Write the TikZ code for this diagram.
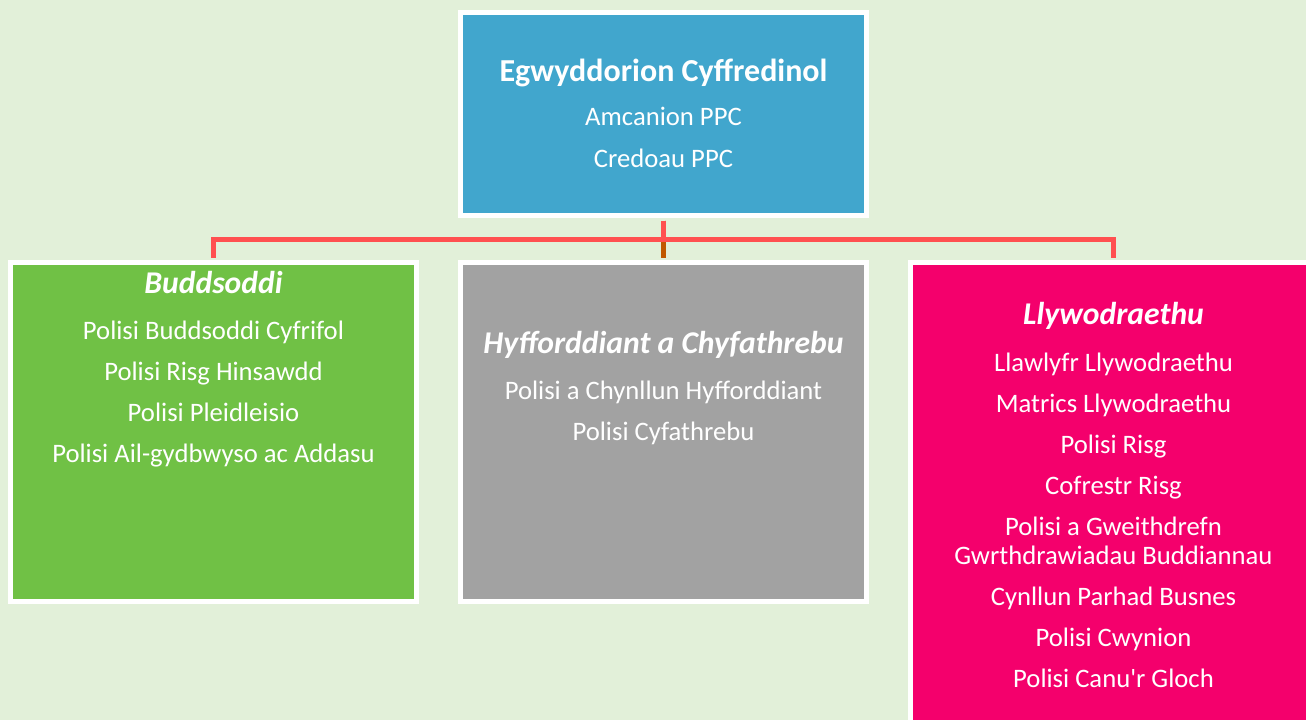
\documentclass[tikz,border=0pt]{standalone}
\usepackage{fontspec}
\setmainfont{Carlito}
\definecolor{bgcol}{HTML}{E2F0D9}
\definecolor{rootblue}{HTML}{41A6CD}
\definecolor{budgreen}{HTML}{70C145}
\definecolor{hyfgray}{HTML}{A2A2A2}
\definecolor{llywpink}{HTML}{F4006C}
\definecolor{linkred}{HTML}{FF5050}
\definecolor{linkbrown}{HTML}{C05800}
\begin{document}
\begin{tikzpicture}
[x=0.75pt,y=0.75pt,
level 1/.style={level distance=109.875pt, sibling distance=337.5pt},
edge from parent/.style={draw=linkred,line width=3.75pt,shorten <=1.9pt,shorten >=1.9pt},
edge from parent path={(\tikzparentnode.south) -- ++(0,-22) -| (\tikzchildnode.north)},
box/.style={rectangle,draw=white,line width=3.75pt,minimum width=304.5pt,inner sep=0pt},
rootbox/.style={box,fill=rootblue,minimum height=152.25pt},
budbox/.style={box,fill=budgreen,anchor=north,minimum height=253.5pt},
hyfbox/.style={box,fill=hyfgray,anchor=north,minimum height=253.5pt},
llywbox/.style={box,fill=llywpink,anchor=north,minimum height=360pt},
title/.style={text=white,anchor=base,inner sep=0pt,font=\bfseries\fontsize{24}{28}\selectfont},
head/.style={text=white,anchor=base,inner sep=0pt,font=\bfseries\itshape\fontsize{23.75}{28}\selectfont},
items/.style={text=white,anchor=base,align=center,inner sep=0pt,font=\fontsize{20}{21.75}\selectfont}]
\useasboundingbox (0,0) rectangle (1306,-720);
\clip (0,0) rectangle (1306,-720);
\fill[bgcol] (0,0) rectangle (1306,-720);
\node[rootbox] (top) at (663.5,-114) {}
child{
  node[budbox] (bud) {}
}
child{
  node[hyfbox] (hyf) {}
  edge from parent[draw=linkbrown]
}
child{
  node[llywbox] (llyw) {}
};
% texts in the boxes (lists sit on the baseline of their last line)
\node[title] (tophead) at ([yshift=-53.625pt]top.north) {Egwyddorion Cyffredinol};
\node[items] (toplist) at ([yshift=-64.5pt]tophead.base) {Amcanion PPC\\[9.75pt]Credoau PPC};
\node[head] (budhead) at ([yshift=-24.375pt]bud.north) {Buddsoddi};
\node[items] (budlist) at ([yshift=-126.75pt]budhead.base) {Polisi Buddsoddi Cyfrifol\\[9pt]Polisi Risg Hinsawdd\\[9pt]Polisi Pleidleisio\\[9pt]Polisi Ail-gydbwyso ac Addasu};
\node[head] (hyfhead) at ([yshift=-69.375pt]hyf.north) {Hyfforddiant a Chyfathrebu};
\node[items] (hyflist) at ([yshift=-65.25pt]hyfhead.base) {Polisi a Chynllun Hyfforddiant\\[9pt]Polisi Cyfathrebu};
\node[head] (llywhead) at ([yshift=-48.375pt]llyw.north) {Llywodraethu};
\node[items] (llywlist) at ([yshift=-271.5pt]llywhead.base) {Llawlyfr Llywodraethu\\[9pt]Matrics Llywodraethu\\[9pt]Polisi Risg\\[9pt]Cofrestr Risg\\[9pt]Polisi a Gweithdrefn\\Gwrthdrawiadau Buddiannau\\[9pt]Cynllun Parhad Busnes\\[9pt]Polisi Cwynion\\[9pt]Polisi Canu\textquotesingle r Gloch};
\end{tikzpicture}
\end{document}
